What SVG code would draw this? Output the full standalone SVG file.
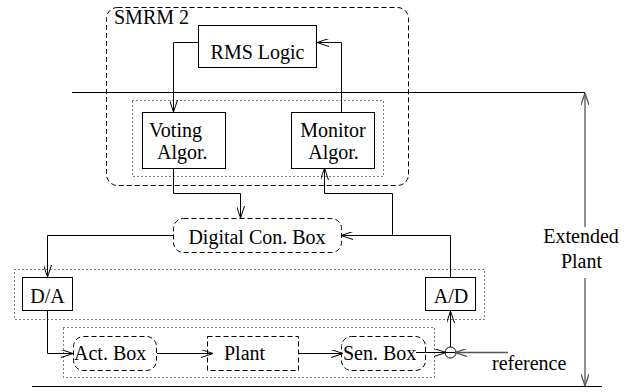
<svg xmlns="http://www.w3.org/2000/svg" width="631" height="392" viewBox="0 0 631 392">
<style>
  text { font-family: 'Liberation Serif', 'Times New Roman', serif; font-size: 20px; fill: #000; }
  .c { text-anchor: middle; }
  .box { fill: none; stroke: #000; stroke-width: 1; }
  .dash { fill: none; stroke: #000; stroke-width: 1; stroke-dasharray: 5,3; }
  .dot { fill: none; stroke: #000; stroke-width: 1; stroke-dasharray: 1,3; }
  .line { fill: none; stroke: #000; stroke-width: 1; }
  .arr { fill: none; stroke: #000; stroke-width: 1; marker-end: url(#ah); }
  .garr { fill: none; stroke: #555; stroke-width: 1.3; marker-end: url(#gah); }
</style>
<defs>
  <marker id="ah" viewBox="0 0 12 8" refX="12" refY="4" markerWidth="12" markerHeight="8" markerUnits="userSpaceOnUse" orient="auto">
    <path d="M0,0 L12,4 L0,8" fill="none" stroke="#000" stroke-width="1"/>
  </marker>
  <marker id="gah" viewBox="0 0 12 8" refX="12" refY="4" markerWidth="12" markerHeight="8" markerUnits="userSpaceOnUse" orient="auto">
    <path d="M0,0 L12,4 L0,8" fill="none" stroke="#555" stroke-width="1.3"/>
  </marker>
</defs>

<g id="smrm2">
  <rect class="dash" x="106.5" y="7.5" width="302" height="178" rx="11"/>
  <text x="114" y="24">SMRM 2</text>
</g>
<g id="algor-group">
  <rect class="dot" x="132.5" y="100.5" width="251" height="76"/>
</g>
<g id="rms-logic">
  <rect class="box" x="198.5" y="25.5" width="118" height="42"/>
  <text class="c" x="257.5" y="59">RMS Logic</text>
</g>
<g id="voting">
  <rect class="box" x="142.5" y="112.5" width="83" height="56"/>
  <text x="149" y="137">Voting</text>
  <text x="157" y="158.5">Algor.</text>
</g>
<g id="monitor">
  <rect class="box" x="291.5" y="112.5" width="83" height="56"/>
  <text class="c" x="333" y="137">Monitor</text>
  <text class="c" x="333.5" y="158.5">Algor.</text>
</g>
<g id="digital-con-box">
  <rect class="dash" x="173.5" y="218.5" width="168" height="34" rx="10"/>
  <text class="c" x="257" y="244">Digital Con. Box</text>
</g>
<g id="converter-group">
  <rect class="dot" x="14.5" y="269.5" width="470" height="50"/>
</g>
<g id="da">
  <rect class="box" x="22.5" y="277.5" width="50" height="33"/>
  <text class="c" x="47.5" y="303">D/A</text>
</g>
<g id="ad">
  <rect class="box" x="425.5" y="277.5" width="50" height="33"/>
  <text class="c" x="451" y="303">A/D</text>
</g>
<g id="plant-group">
  <rect class="dot" x="63.5" y="327.5" width="371" height="50"/>
</g>
<g id="act-box">
  <rect class="dash" x="73.5" y="336.5" width="83" height="34" rx="10"/>
  <text x="74" y="360">Act. Box</text>
</g>
<g id="plant">
  <rect class="dash" x="207.5" y="336.5" width="91" height="34"/>
  <text x="224" y="360">Plant</text>
</g>
<g id="sen-box">
  <rect class="dash" x="341.5" y="336.5" width="84" height="34" rx="10"/>
  <text x="343" y="360">Sen. Box</text>
</g>
<g id="summing-junction">
  <circle class="line" cx="450.5" cy="352.5" r="5.5"/>
  <line class="line" x1="445" y1="352.5" x2="456" y2="352.5"/>
</g>
<g id="labels">
  <text x="492" y="370">reference</text>
  <text class="c" x="581" y="243">Extended</text>
  <text class="c" x="581.5" y="268">Plant</text>
</g>

<g id="connectors">
  <path class="arr" d="M198,42.5 H173.5 V112"/>
  <path class="arr" d="M341.5,112 V42.5 H317"/>
  <path class="arr" d="M173.5,168 V193.5 H240.5 V218"/>
  <path class="arr" d="M450.5,277 V235.5 H341"/>
  <path class="arr" d="M392.5,235.5 V193.5 H324.5 V168"/>
  <path class="arr" d="M173,235.5 H47.5 V277"/>
  <path class="arr" d="M47.5,311 V353.5 H73"/>
  <path class="arr" d="M157,353.5 H213"/>
  <path class="arr" d="M299,353.5 H343"/>
  <path class="arr" d="M416,352.5 H446"/>
  <path class="garr" d="M508,352.5 H455"/>
  <path class="arr" d="M450.5,347 V311"/>
  <path class="line" d="M72,92.5 H585"/>
  <path class="line" d="M32,386.5 H602"/>
  <path class="garr" d="M585,227 V93"/>
  <path class="garr" d="M585,278 V386"/>
</g>
</svg>
